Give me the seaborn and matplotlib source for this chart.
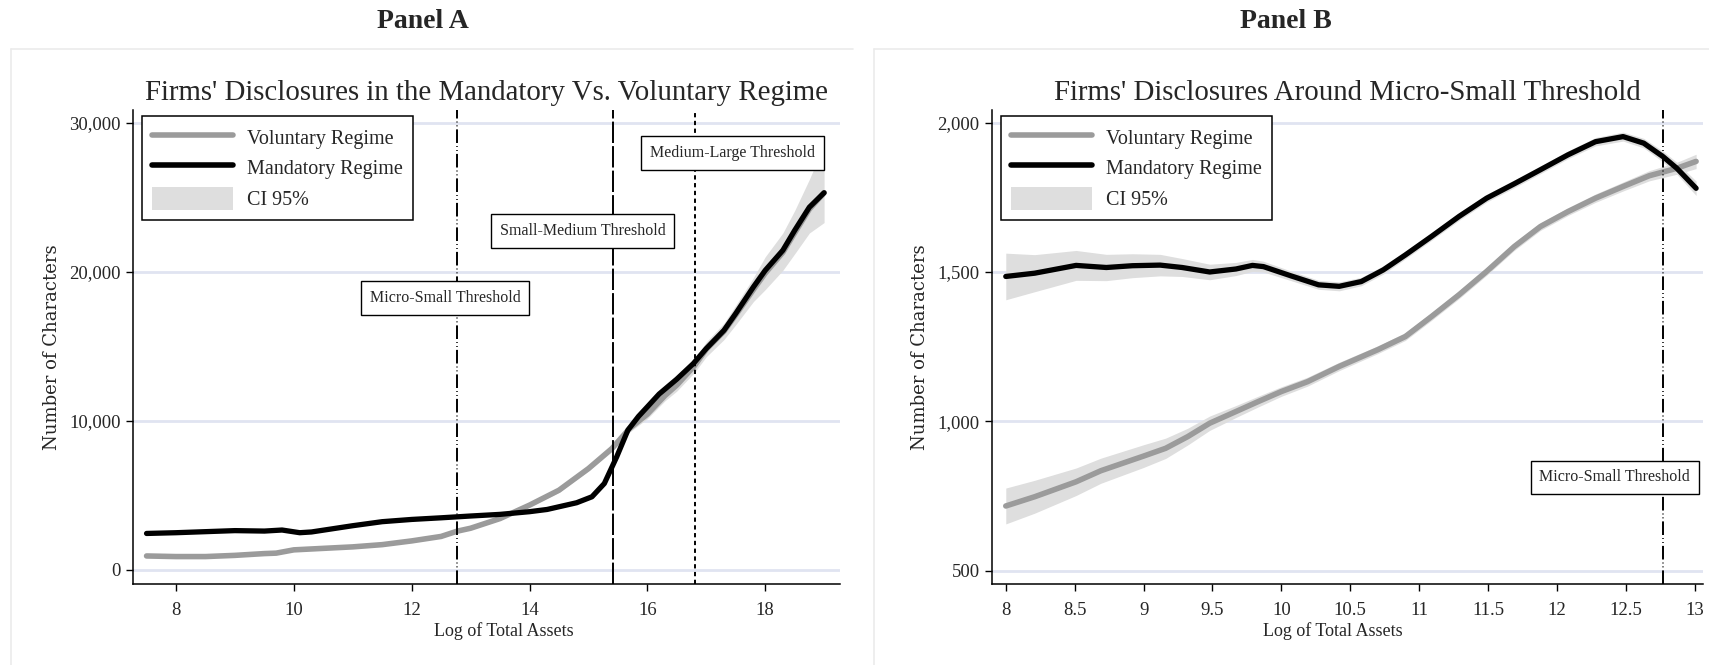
import numpy as np
import pandas as pd
import matplotlib
matplotlib.use("Agg")
import matplotlib.pyplot as plt
import seaborn as sns
from matplotlib.lines import Line2D
from matplotlib.patches import Patch
from matplotlib.ticker import FuncFormatter

# ---------------- Panel A data ----------------
a_vol_x = [7.5, 8, 8.5, 9, 9.5, 9.7, 10, 10.5, 11, 11.5, 12, 12.5, 12.77, 13, 13.5, 14,
           14.5, 15, 15.4, 15.7, 16, 16.3, 16.5, 16.8, 17, 17.3, 17.5, 17.8, 18, 18.3,
           18.5, 18.75, 19]
a_vol_y = [940, 900, 900, 980, 1100, 1130, 1350, 1450, 1550, 1700, 1950, 2250, 2600, 2800,
           3450, 4350, 5350, 6800, 8150, 9500, 10450, 11700, 12400, 13700, 14800, 16000,
           17100, 18800, 19900, 21300, 22600, 24200, 25300]
a_vol_lo = [850, 820, 830, 910, 1030, 1060, 1280, 1380, 1480, 1620, 1870, 2170, 2520, 2710,
            3350, 4230, 5210, 6640, 7950, 9250, 10150, 11350, 12000, 13250, 14300, 15450,
            16450, 18000, 18800, 20100, 21200, 22600, 23300]
a_vol_hi = [1030, 980, 970, 1050, 1170, 1200, 1420, 1520, 1620, 1780, 2030, 2330, 2680, 2890,
            3550, 4470, 5490, 6960, 8350, 9750, 10750, 12050, 12800, 14150, 15300, 16550,
            17750, 19600, 21000, 22600, 24100, 26200, 28500]

a_man_x = [7.5, 8, 8.5, 9, 9.5, 9.8, 10.1, 10.3, 10.7, 11, 11.5, 12, 12.5, 13, 13.5, 14,
           14.3, 14.5, 14.8, 15.06, 15.27, 15.48, 15.67, 15.85, 16.0, 16.2, 16.5, 16.78, 17,
           17.3, 17.5, 17.8, 18, 18.3, 18.5, 18.75, 19]
a_man_y = [2450, 2500, 2570, 2640, 2610, 2680, 2500, 2550, 2790, 2970, 3240, 3390, 3500,
           3620, 3730, 3910, 4060, 4240, 4510, 4910, 5800, 7590, 9380, 10300, 10940, 11800,
           12800, 13840, 14850, 16070, 17200, 18980, 20090, 21440, 22770, 24330, 25300]

a_thresholds = [12.77, 15.42, 16.81]
a_threshold_labels = ["Micro-Small Threshold", "Small-Medium Threshold", "Medium-Large Threshold"]
a_label_pos = [(12.57, 18250), (14.9, 22750), (17.45, 27950)]

# ---------------- Panel B data ----------------
b_man_x = [8.0, 8.21, 8.51, 8.73, 8.92, 9.12, 9.28, 9.48, 9.67, 9.79, 9.87, 10.07, 10.27,
           10.42, 10.58, 10.74, 10.9, 11.09, 11.29, 11.49, 11.69, 11.88, 12.08, 12.28, 12.48,
           12.63, 12.77, 12.87, 13.01]
b_man_y = [1485, 1496, 1522, 1515, 1521, 1523, 1515, 1500, 1510, 1522, 1518, 1487, 1457,
           1452, 1468, 1507, 1557, 1619, 1686, 1747, 1795, 1842, 1892, 1936, 1953, 1931,
           1886, 1847, 1780]
b_man_hw = [78, 62, 50, 44, 40, 36, 30, 26, 22, 20, 18, 16, 15, 15, 14, 14, 13, 13, 13, 13,
            13, 13, 13, 14, 15, 16, 18, 20, 24]

b_vol_x = [8.0, 8.21, 8.51, 8.69, 9.0, 9.16, 9.32, 9.48, 9.67, 9.83, 10.0, 10.19, 10.42,
           10.7, 10.9, 11.09, 11.29, 11.49, 11.69, 11.88, 12.08, 12.28, 12.48, 12.67, 12.87,
           13.01]
b_vol_y = [717, 748, 798, 835, 884, 910, 949, 994, 1033, 1066, 1100, 1133, 1184, 1240, 1284,
           1351, 1424, 1502, 1585, 1652, 1702, 1747, 1786, 1822, 1847, 1870]
b_vol_hw = [60, 55, 46, 42, 38, 34, 28, 24, 20, 18, 16, 15, 14, 13, 13, 13, 13, 13, 13, 13,
            13, 14, 15, 17, 20, 24]

b_threshold = 12.77
b_label_pos = (12.42, 813)

# ---------------- Style ----------------
sns.set_theme(style="white")
plt.rcParams["font.family"] = ["Liberation Serif", "DejaVu Serif"]

VOL_C = "#9b9b9b"
MAN_C = "#000000"
CI_C = "#dedede"
GRID_C = "#e0e4f1"
FRAME_C = "#ebebeb"

fig = plt.figure(figsize=(17.09, 6.65), dpi=100)
W, H = 1709.0, 665.0


def fx(px):
    return px / W


def fy(py):
    return 1 - py / H


# panel frames (top + left edges only)
for x0, x1 in [(11, 853), (874, 1709)]:
    fig.add_artist(Line2D([fx(x0), fx(x1)], [fy(49), fy(49)], transform=fig.transFigure,
                          color=FRAME_C, lw=1.2))
    fig.add_artist(Line2D([fx(x0), fx(x0)], [fy(49), fy(665)], transform=fig.transFigure,
                          color=FRAME_C, lw=1.2))

fig.text(fx(423), fy(22), "Panel A", ha="center", va="center", fontsize=20, fontweight="bold")
fig.text(fx(1286), fy(22), "Panel B", ha="center", va="center", fontsize=20, fontweight="bold")

axA = fig.add_axes([fx(133), fy(584), fx(840 - 133), (584 - 110) / H])
axB = fig.add_axes([fx(992), fy(584), fx(1703 - 992), (584 - 110) / H])

micro_ls = (0, (7, 1.6, 0.4, 1.6, 0.4, 1.6))


def style_axis(ax, yticks, fmt, xlab_x):
    ax.set_yticks(yticks)
    ax.yaxis.set_major_formatter(FuncFormatter(fmt))
    for yv in yticks:
        ax.axhline(yv, color=GRID_C, lw=2, zorder=0)
    ax.grid(False)
    for s in ["top", "right"]:
        ax.spines[s].set_visible(False)
    for s in ["left", "bottom"]:
        ax.spines[s].set_color("black")
        ax.spines[s].set_linewidth(1.1)
    ax.tick_params(axis="both", direction="out", length=5, width=1, color="black",
                   labelsize=13.5, left=True, bottom=True, pad=4)
    ax.tick_params(axis="x", pad=8)
    ax.set_xlabel("Log of Total Assets", fontsize=13)
    ax.xaxis.set_label_coords(xlab_x, -0.08)
    ax.set_ylabel("Number of Characters", fontsize=13, family="DejaVu Serif", labelpad=6)


def add_legend(ax):
    handles = [Line2D([], [], color=VOL_C, lw=4),
               Line2D([], [], color=MAN_C, lw=4),
               Patch(facecolor=CI_C, edgecolor="none")]
    leg = ax.legend(handles, ["Voluntary Regime", "Mandatory Regime", "CI 95%"],
                    loc="upper left", bbox_to_anchor=(0.013, 0.988), borderaxespad=0,
                    fontsize=14.5, handlelength=4.0, handleheight=1.4, labelspacing=0.35,
                    frameon=True, fancybox=False, framealpha=1, borderpad=0.5,
                    handletextpad=0.7)
    leg.get_frame().set_edgecolor("black")
    leg.get_frame().set_linewidth(1.1)
    leg.set_zorder(20)


box = dict(boxstyle="square,pad=0.55", fc="white", ec="black", lw=1)

# ---------------- Panel A ----------------
dfA_vol = pd.DataFrame({"x": a_vol_x, "y": a_vol_y})
dfA_man = pd.DataFrame({"x": a_man_x, "y": a_man_y})
axA.fill_between(a_vol_x, a_vol_lo, a_vol_hi, color=CI_C, lw=0, zorder=2)
sns.lineplot(data=dfA_vol, x="x", y="y", ax=axA, color=VOL_C, lw=4, zorder=3)
sns.lineplot(data=dfA_man, x="x", y="y", ax=axA, color=MAN_C, lw=3.8, zorder=4)

a_styles = [micro_ls, (0, (11, 1.6)), (0, (2.2, 1.8))]
for xv, ls in zip(a_thresholds, a_styles):
    axA.axvline(xv, color="black", lw=1.4, ls=ls, zorder=5)
for (tx, ty), lab in zip(a_label_pos, a_threshold_labels):
    axA.text(tx, ty, lab, ha="center", va="center", fontsize=11.5, bbox=box, zorder=10)

axA.set_xlim(7.27, 19.27)
axA.set_ylim(-940, 30850)
axA.set_xticks([8, 10, 12, 14, 16, 18])
style_axis(axA, [0, 10000, 20000, 30000], lambda v, p: f"{int(v):,}", 0.525)
axA.set_title("Firms' Disclosures in the Mandatory Vs. Voluntary Regime", fontsize=20.8, pad=7)
add_legend(axA)

# ---------------- Panel B ----------------
dfB_vol = pd.DataFrame({"x": b_vol_x, "y": b_vol_y})
dfB_man = pd.DataFrame({"x": b_man_x, "y": b_man_y})
bvy = np.array(b_vol_y); bvh = np.array(b_vol_hw)
bmy = np.array(b_man_y); bmh = np.array(b_man_hw)
axB.fill_between(b_vol_x, bvy - bvh, bvy + bvh, color=CI_C, lw=0, zorder=2)
axB.fill_between(b_man_x, bmy - bmh, bmy + bmh, color=CI_C, lw=0, zorder=2)
sns.lineplot(data=dfB_vol, x="x", y="y", ax=axB, color=VOL_C, lw=4, zorder=3)
sns.lineplot(data=dfB_man, x="x", y="y", ax=axB, color=MAN_C, lw=3.8, zorder=4)

axB.axvline(b_threshold, color="black", lw=1.4, ls=micro_ls, zorder=5)
axB.text(b_label_pos[0], b_label_pos[1], "Micro-Small Threshold", ha="center", va="center",
         fontsize=11.5, bbox=box, zorder=10)

axB.set_xlim(7.9, 13.06)
axB.set_ylim(456, 2042)
b_xt = [8, 8.5, 9, 9.5, 10, 10.5, 11, 11.5, 12, 12.5, 13]
axB.set_xticks(b_xt)
axB.set_xticklabels([f"{v:g}" for v in b_xt])
style_axis(axB, [500, 1000, 1500, 2000], lambda v, p: f"{int(v):,}", 0.48)
axB.set_title("Firms' Disclosures Around Micro-Small Threshold", fontsize=20.8, pad=7)
add_legend(axB)

fig.savefig("out.png", dpi=100, facecolor="white")
